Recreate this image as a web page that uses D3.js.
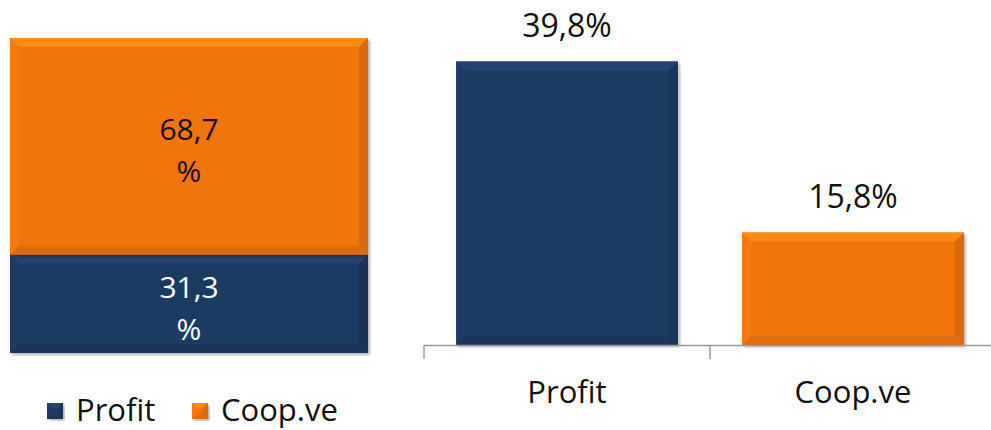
<!DOCTYPE html>
<html lang="en">
<head>
  <meta charset="UTF-8">
  <title>Profit vs Coop.ve</title>
  <script src="https://d3js.org/d3.v7.min.js"></script>
  <style>
    body { margin: 0; background: #fff; }
    text { font-family: "Open Sans", sans-serif; }
  </style>
</head>
<body>
  <div id="chart"></div>
  <script>
    // data
    const categories = ["Profit", "Coop.ve"];
    const shareValues = [31.3, 68.7];      // stacked 100% bar (left)
    const shareLabels = ["31,3", "68,7"];
    const rateValues = [39.8, 15.8];       // right bar chart
    const rateLabels = ["39,8%", "15,8%"];
    const colors = ["#1f3a62", "#f07511"];

    const width = 991, height = 430;

    const svg = d3.select("#chart").append("svg")
      .attr("width", width)
      .attr("height", height);

    const defs = svg.append("defs");
    defs.append("filter").attr("id", "shadow")
      .attr("x", "-10%").attr("y", "-10%").attr("width", "120%").attr("height", "120%")
      .append("feDropShadow")
      .attr("dx", 2).attr("dy", 2).attr("stdDeviation", 1.5)
      .attr("flood-color", "#000").attr("flood-opacity", 0.3);

    // beveled box: base rect + light top, dark sides/bottom
    function bevelBox(g, x0, y0, x1, y1, color) {
      const b = Math.min(9, (y1 - y0) / 3);
      const c = d3.color(color);
      g.append("rect")
        .attr("x", x0).attr("y", y0)
        .attr("width", x1 - x0).attr("height", y1 - y0)
        .attr("fill", color)
        .attr("filter", "url(#shadow)");
      const faces = [
        {pts: [[x0, y0], [x1, y0], [x1 - b, y0 + b], [x0 + b, y0 + b]], fill: c.brighter(0.55)},
        {pts: [[x0, y0], [x0 + b, y0 + b], [x0 + b, y1 - b], [x0, y1]], fill: c.brighter(0.1)},
        {pts: [[x1, y0], [x1, y1], [x1 - b, y1 - b], [x1 - b, y0 + b]], fill: c.darker(0.35)},
        {pts: [[x0, y1], [x0 + b, y1 - b], [x1 - b, y1 - b], [x1, y1]], fill: c.darker(0.25)}
      ];
      g.selectAll(null).data(faces).enter().append("polygon")
        .attr("points", d => d.pts.map(p => p.join(",")).join(" "))
        .attr("fill", d => d.fill)
        .attr("opacity", 0.85);
    }

    // ---- left: 100% stacked bar ----
    const yShare = d3.scaleLinear().domain([0, 100]).range([353, 38]);
    const xShare = d3.scaleBand().domain(["all"]).range([10, 368]);
    const left = svg.append("g");

    let acc = 0;
    const stacked = shareValues.map((v, i) => {
      const d = {y0: acc, y1: acc + v, i: i};
      acc += v;
      return d;
    });

    stacked.forEach(d => {
      bevelBox(left, xShare("all"), yShare(d.y1), xShare("all") + xShare.bandwidth(), yShare(d.y0), colors[d.i]);
    });

    stacked.forEach(d => {
      const cx = xShare("all") + xShare.bandwidth() / 2;
      const cy = (yShare(d.y0) + yShare(d.y1)) / 2;
      const t = left.append("text")
        .attr("x", cx)
        .attr("text-anchor", "middle")
        .attr("font-size", 30)
        .attr("fill", d.i === 0 ? "#fff" : "#111");
      t.append("tspan").attr("x", cx).attr("y", cy - 6).text(shareLabels[d.i]);
      t.append("tspan").attr("x", cx).attr("y", cy + 36).text("%");
    });

    // legend
    const legend = svg.append("g").attr("transform", "translate(47,403)");
    const legX = [0, 145];
    categories.forEach((c, i) => {
      const g = legend.append("g").attr("transform", "translate(" + legX[i] + ",0)");
      bevelBox(g, 0, 0, 16, 16, colors[i]);
      g.append("text").attr("x", 29).attr("y", 18)
        .attr("font-size", 31).attr("fill", "#111").text(c);
    });

    // ---- right: bar chart ----
    const baseY = 345;
    const x = d3.scaleBand().domain(categories)
      .range([424, 996])
      .paddingInner(0.225).paddingOuter(0.1125);
    const y = d3.scaleLinear().domain([0, 40]).range([baseY, 60]);

    const right = svg.append("g");
    categories.forEach((c, i) => {
      bevelBox(right, x(c), y(rateValues[i]), x(c) + x.bandwidth(), y(0), colors[i]);
    });

    right.selectAll(".val").data(categories).enter().append("text")
      .attr("class", "val")
      .attr("x", d => x(d) + x.bandwidth() / 2)
      .attr("y", (d, i) => y(rateValues[i]) - 24)
      .attr("text-anchor", "middle")
      .attr("font-size", 32)
      .attr("fill", "#111")
      .text((d, i) => rateLabels[i]);

    // axis: baseline with ticks at band edges
    const axisG = right.append("g");
    axisG.append("line")
      .attr("x1", x.range()[0]).attr("x2", x.range()[1])
      .attr("y1", baseY + 0.5).attr("y2", baseY + 0.5)
      .attr("stroke", "#999").attr("stroke-width", 1.5);
    const edges = d3.range(categories.length + 1).map(i => x.range()[0] + i * x.step() * categories.length / categories.length
      + (i > 0 ? x.step() * (x.paddingOuter() * 2 - x.paddingInner()) * i / categories.length : 0));
    axisG.selectAll(".tick").data(edges).enter().append("line")
      .attr("x1", d => d).attr("x2", d => d)
      .attr("y1", baseY).attr("y2", baseY + 14)
      .attr("stroke", "#999").attr("stroke-width", 1.5);

    right.selectAll(".cat").data(categories).enter().append("text")
      .attr("class", "cat")
      .attr("x", d => x(d) + x.bandwidth() / 2)
      .attr("y", 403)
      .attr("text-anchor", "middle")
      .attr("font-size", 31)
      .attr("fill", "#111")
      .text(d => d);
  </script>
</body>
</html>
